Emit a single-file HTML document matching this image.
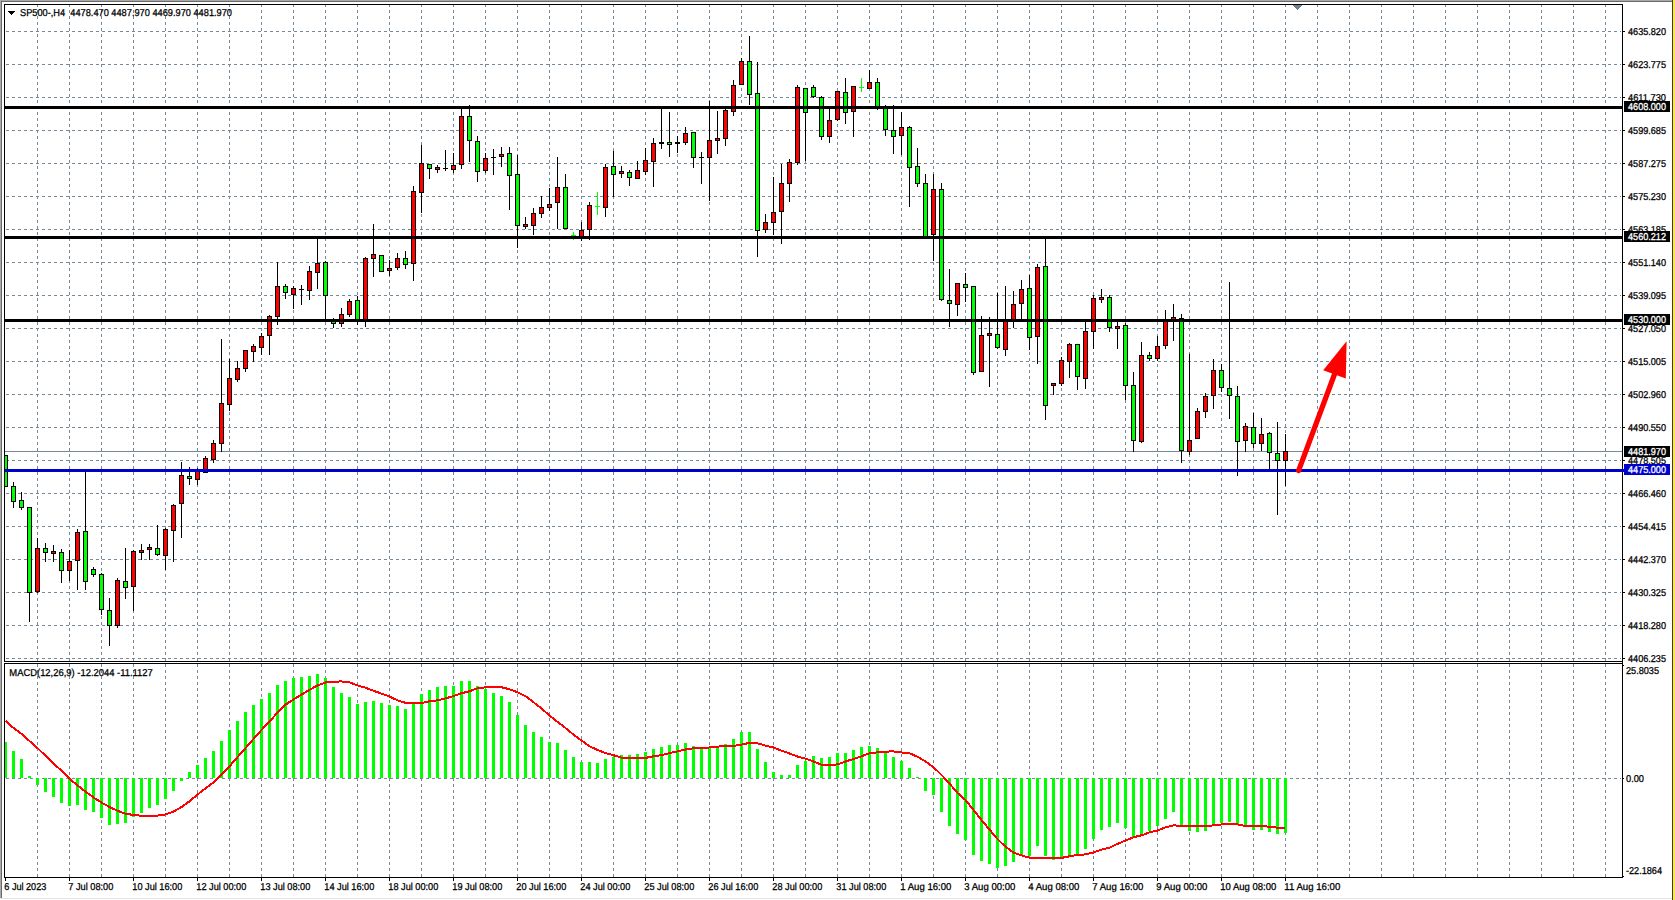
<!DOCTYPE html>
<html><head><meta charset="utf-8"><title>SP500-,H4</title>
<style>
html,body{margin:0;padding:0;background:#fff;}
body{width:1675px;height:900px;overflow:hidden;}
svg{display:block;font-family:"Liberation Sans",sans-serif;font-size:10px;}
</style></head><body>
<svg width="1675" height="900" viewBox="0 0 1675 900" shape-rendering="crispEdges" text-rendering="geometricPrecision">
<rect width="1675" height="900" fill="#fff"/>
<rect x="0" y="0" width="1672" height="1" fill="#a9a9a9"/>
<rect x="0" y="1" width="1672" height="1" fill="#696969"/>
<rect x="0" y="0" width="1" height="898" fill="#a9a9a9"/>
<rect x="1" y="1" width="1" height="897" fill="#696969"/>
<rect x="0" y="898" width="1672" height="1" fill="#e3e3e3"/>
<rect x="1672" y="0" width="1" height="900" fill="#3c3c44"/>
<rect x="1673" y="0" width="2" height="900" fill="#ffe83c"/>
<line x1="37.5" y1="5" x2="37.5" y2="661" stroke="#778899" stroke-dasharray="3 3" stroke-dashoffset="1"/>
<line x1="37.5" y1="664" x2="37.5" y2="877" stroke="#778899" stroke-dasharray="3 3" stroke-dashoffset="0"/>
<line x1="69.5" y1="5" x2="69.5" y2="661" stroke="#778899" stroke-dasharray="3 3" stroke-dashoffset="1"/>
<line x1="69.5" y1="664" x2="69.5" y2="877" stroke="#778899" stroke-dasharray="3 3" stroke-dashoffset="0"/>
<line x1="101.5" y1="5" x2="101.5" y2="661" stroke="#778899" stroke-dasharray="3 3" stroke-dashoffset="1"/>
<line x1="101.5" y1="664" x2="101.5" y2="877" stroke="#778899" stroke-dasharray="3 3" stroke-dashoffset="0"/>
<line x1="133.5" y1="5" x2="133.5" y2="661" stroke="#778899" stroke-dasharray="3 3" stroke-dashoffset="1"/>
<line x1="133.5" y1="664" x2="133.5" y2="877" stroke="#778899" stroke-dasharray="3 3" stroke-dashoffset="0"/>
<line x1="165.5" y1="5" x2="165.5" y2="661" stroke="#778899" stroke-dasharray="3 3" stroke-dashoffset="1"/>
<line x1="165.5" y1="664" x2="165.5" y2="877" stroke="#778899" stroke-dasharray="3 3" stroke-dashoffset="0"/>
<line x1="197.5" y1="5" x2="197.5" y2="661" stroke="#778899" stroke-dasharray="3 3" stroke-dashoffset="1"/>
<line x1="197.5" y1="664" x2="197.5" y2="877" stroke="#778899" stroke-dasharray="3 3" stroke-dashoffset="0"/>
<line x1="229.5" y1="5" x2="229.5" y2="661" stroke="#778899" stroke-dasharray="3 3" stroke-dashoffset="1"/>
<line x1="229.5" y1="664" x2="229.5" y2="877" stroke="#778899" stroke-dasharray="3 3" stroke-dashoffset="0"/>
<line x1="261.5" y1="5" x2="261.5" y2="661" stroke="#778899" stroke-dasharray="3 3" stroke-dashoffset="1"/>
<line x1="261.5" y1="664" x2="261.5" y2="877" stroke="#778899" stroke-dasharray="3 3" stroke-dashoffset="0"/>
<line x1="293.5" y1="5" x2="293.5" y2="661" stroke="#778899" stroke-dasharray="3 3" stroke-dashoffset="1"/>
<line x1="293.5" y1="664" x2="293.5" y2="877" stroke="#778899" stroke-dasharray="3 3" stroke-dashoffset="0"/>
<line x1="325.5" y1="5" x2="325.5" y2="661" stroke="#778899" stroke-dasharray="3 3" stroke-dashoffset="1"/>
<line x1="325.5" y1="664" x2="325.5" y2="877" stroke="#778899" stroke-dasharray="3 3" stroke-dashoffset="0"/>
<line x1="357.5" y1="5" x2="357.5" y2="661" stroke="#778899" stroke-dasharray="3 3" stroke-dashoffset="1"/>
<line x1="357.5" y1="664" x2="357.5" y2="877" stroke="#778899" stroke-dasharray="3 3" stroke-dashoffset="0"/>
<line x1="389.5" y1="5" x2="389.5" y2="661" stroke="#778899" stroke-dasharray="3 3" stroke-dashoffset="1"/>
<line x1="389.5" y1="664" x2="389.5" y2="877" stroke="#778899" stroke-dasharray="3 3" stroke-dashoffset="0"/>
<line x1="421.5" y1="5" x2="421.5" y2="661" stroke="#778899" stroke-dasharray="3 3" stroke-dashoffset="1"/>
<line x1="421.5" y1="664" x2="421.5" y2="877" stroke="#778899" stroke-dasharray="3 3" stroke-dashoffset="0"/>
<line x1="453.5" y1="5" x2="453.5" y2="661" stroke="#778899" stroke-dasharray="3 3" stroke-dashoffset="1"/>
<line x1="453.5" y1="664" x2="453.5" y2="877" stroke="#778899" stroke-dasharray="3 3" stroke-dashoffset="0"/>
<line x1="485.5" y1="5" x2="485.5" y2="661" stroke="#778899" stroke-dasharray="3 3" stroke-dashoffset="1"/>
<line x1="485.5" y1="664" x2="485.5" y2="877" stroke="#778899" stroke-dasharray="3 3" stroke-dashoffset="0"/>
<line x1="517.5" y1="5" x2="517.5" y2="661" stroke="#778899" stroke-dasharray="3 3" stroke-dashoffset="1"/>
<line x1="517.5" y1="664" x2="517.5" y2="877" stroke="#778899" stroke-dasharray="3 3" stroke-dashoffset="0"/>
<line x1="549.5" y1="5" x2="549.5" y2="661" stroke="#778899" stroke-dasharray="3 3" stroke-dashoffset="1"/>
<line x1="549.5" y1="664" x2="549.5" y2="877" stroke="#778899" stroke-dasharray="3 3" stroke-dashoffset="0"/>
<line x1="581.5" y1="5" x2="581.5" y2="661" stroke="#778899" stroke-dasharray="3 3" stroke-dashoffset="1"/>
<line x1="581.5" y1="664" x2="581.5" y2="877" stroke="#778899" stroke-dasharray="3 3" stroke-dashoffset="0"/>
<line x1="613.5" y1="5" x2="613.5" y2="661" stroke="#778899" stroke-dasharray="3 3" stroke-dashoffset="1"/>
<line x1="613.5" y1="664" x2="613.5" y2="877" stroke="#778899" stroke-dasharray="3 3" stroke-dashoffset="0"/>
<line x1="645.5" y1="5" x2="645.5" y2="661" stroke="#778899" stroke-dasharray="3 3" stroke-dashoffset="1"/>
<line x1="645.5" y1="664" x2="645.5" y2="877" stroke="#778899" stroke-dasharray="3 3" stroke-dashoffset="0"/>
<line x1="677.5" y1="5" x2="677.5" y2="661" stroke="#778899" stroke-dasharray="3 3" stroke-dashoffset="1"/>
<line x1="677.5" y1="664" x2="677.5" y2="877" stroke="#778899" stroke-dasharray="3 3" stroke-dashoffset="0"/>
<line x1="709.5" y1="5" x2="709.5" y2="661" stroke="#778899" stroke-dasharray="3 3" stroke-dashoffset="1"/>
<line x1="709.5" y1="664" x2="709.5" y2="877" stroke="#778899" stroke-dasharray="3 3" stroke-dashoffset="0"/>
<line x1="741.5" y1="5" x2="741.5" y2="661" stroke="#778899" stroke-dasharray="3 3" stroke-dashoffset="1"/>
<line x1="741.5" y1="664" x2="741.5" y2="877" stroke="#778899" stroke-dasharray="3 3" stroke-dashoffset="0"/>
<line x1="773.5" y1="5" x2="773.5" y2="661" stroke="#778899" stroke-dasharray="3 3" stroke-dashoffset="1"/>
<line x1="773.5" y1="664" x2="773.5" y2="877" stroke="#778899" stroke-dasharray="3 3" stroke-dashoffset="0"/>
<line x1="805.5" y1="5" x2="805.5" y2="661" stroke="#778899" stroke-dasharray="3 3" stroke-dashoffset="1"/>
<line x1="805.5" y1="664" x2="805.5" y2="877" stroke="#778899" stroke-dasharray="3 3" stroke-dashoffset="0"/>
<line x1="837.5" y1="5" x2="837.5" y2="661" stroke="#778899" stroke-dasharray="3 3" stroke-dashoffset="1"/>
<line x1="837.5" y1="664" x2="837.5" y2="877" stroke="#778899" stroke-dasharray="3 3" stroke-dashoffset="0"/>
<line x1="869.5" y1="5" x2="869.5" y2="661" stroke="#778899" stroke-dasharray="3 3" stroke-dashoffset="1"/>
<line x1="869.5" y1="664" x2="869.5" y2="877" stroke="#778899" stroke-dasharray="3 3" stroke-dashoffset="0"/>
<line x1="901.5" y1="5" x2="901.5" y2="661" stroke="#778899" stroke-dasharray="3 3" stroke-dashoffset="1"/>
<line x1="901.5" y1="664" x2="901.5" y2="877" stroke="#778899" stroke-dasharray="3 3" stroke-dashoffset="0"/>
<line x1="933.5" y1="5" x2="933.5" y2="661" stroke="#778899" stroke-dasharray="3 3" stroke-dashoffset="1"/>
<line x1="933.5" y1="664" x2="933.5" y2="877" stroke="#778899" stroke-dasharray="3 3" stroke-dashoffset="0"/>
<line x1="965.5" y1="5" x2="965.5" y2="661" stroke="#778899" stroke-dasharray="3 3" stroke-dashoffset="1"/>
<line x1="965.5" y1="664" x2="965.5" y2="877" stroke="#778899" stroke-dasharray="3 3" stroke-dashoffset="0"/>
<line x1="997.5" y1="5" x2="997.5" y2="661" stroke="#778899" stroke-dasharray="3 3" stroke-dashoffset="1"/>
<line x1="997.5" y1="664" x2="997.5" y2="877" stroke="#778899" stroke-dasharray="3 3" stroke-dashoffset="0"/>
<line x1="1029.5" y1="5" x2="1029.5" y2="661" stroke="#778899" stroke-dasharray="3 3" stroke-dashoffset="1"/>
<line x1="1029.5" y1="664" x2="1029.5" y2="877" stroke="#778899" stroke-dasharray="3 3" stroke-dashoffset="0"/>
<line x1="1061.5" y1="5" x2="1061.5" y2="661" stroke="#778899" stroke-dasharray="3 3" stroke-dashoffset="1"/>
<line x1="1061.5" y1="664" x2="1061.5" y2="877" stroke="#778899" stroke-dasharray="3 3" stroke-dashoffset="0"/>
<line x1="1093.5" y1="5" x2="1093.5" y2="661" stroke="#778899" stroke-dasharray="3 3" stroke-dashoffset="1"/>
<line x1="1093.5" y1="664" x2="1093.5" y2="877" stroke="#778899" stroke-dasharray="3 3" stroke-dashoffset="0"/>
<line x1="1125.5" y1="5" x2="1125.5" y2="661" stroke="#778899" stroke-dasharray="3 3" stroke-dashoffset="1"/>
<line x1="1125.5" y1="664" x2="1125.5" y2="877" stroke="#778899" stroke-dasharray="3 3" stroke-dashoffset="0"/>
<line x1="1157.5" y1="5" x2="1157.5" y2="661" stroke="#778899" stroke-dasharray="3 3" stroke-dashoffset="1"/>
<line x1="1157.5" y1="664" x2="1157.5" y2="877" stroke="#778899" stroke-dasharray="3 3" stroke-dashoffset="0"/>
<line x1="1189.5" y1="5" x2="1189.5" y2="661" stroke="#778899" stroke-dasharray="3 3" stroke-dashoffset="1"/>
<line x1="1189.5" y1="664" x2="1189.5" y2="877" stroke="#778899" stroke-dasharray="3 3" stroke-dashoffset="0"/>
<line x1="1221.5" y1="5" x2="1221.5" y2="661" stroke="#778899" stroke-dasharray="3 3" stroke-dashoffset="1"/>
<line x1="1221.5" y1="664" x2="1221.5" y2="877" stroke="#778899" stroke-dasharray="3 3" stroke-dashoffset="0"/>
<line x1="1253.5" y1="5" x2="1253.5" y2="661" stroke="#778899" stroke-dasharray="3 3" stroke-dashoffset="1"/>
<line x1="1253.5" y1="664" x2="1253.5" y2="877" stroke="#778899" stroke-dasharray="3 3" stroke-dashoffset="0"/>
<line x1="1285.5" y1="5" x2="1285.5" y2="661" stroke="#778899" stroke-dasharray="3 3" stroke-dashoffset="1"/>
<line x1="1285.5" y1="664" x2="1285.5" y2="877" stroke="#778899" stroke-dasharray="3 3" stroke-dashoffset="0"/>
<line x1="1317.5" y1="5" x2="1317.5" y2="661" stroke="#778899" stroke-dasharray="3 3" stroke-dashoffset="1"/>
<line x1="1317.5" y1="664" x2="1317.5" y2="877" stroke="#778899" stroke-dasharray="3 3" stroke-dashoffset="0"/>
<line x1="1349.5" y1="5" x2="1349.5" y2="661" stroke="#778899" stroke-dasharray="3 3" stroke-dashoffset="1"/>
<line x1="1349.5" y1="664" x2="1349.5" y2="877" stroke="#778899" stroke-dasharray="3 3" stroke-dashoffset="0"/>
<line x1="1381.5" y1="5" x2="1381.5" y2="661" stroke="#778899" stroke-dasharray="3 3" stroke-dashoffset="1"/>
<line x1="1381.5" y1="664" x2="1381.5" y2="877" stroke="#778899" stroke-dasharray="3 3" stroke-dashoffset="0"/>
<line x1="1413.5" y1="5" x2="1413.5" y2="661" stroke="#778899" stroke-dasharray="3 3" stroke-dashoffset="1"/>
<line x1="1413.5" y1="664" x2="1413.5" y2="877" stroke="#778899" stroke-dasharray="3 3" stroke-dashoffset="0"/>
<line x1="1445.5" y1="5" x2="1445.5" y2="661" stroke="#778899" stroke-dasharray="3 3" stroke-dashoffset="1"/>
<line x1="1445.5" y1="664" x2="1445.5" y2="877" stroke="#778899" stroke-dasharray="3 3" stroke-dashoffset="0"/>
<line x1="1477.5" y1="5" x2="1477.5" y2="661" stroke="#778899" stroke-dasharray="3 3" stroke-dashoffset="1"/>
<line x1="1477.5" y1="664" x2="1477.5" y2="877" stroke="#778899" stroke-dasharray="3 3" stroke-dashoffset="0"/>
<line x1="1509.5" y1="5" x2="1509.5" y2="661" stroke="#778899" stroke-dasharray="3 3" stroke-dashoffset="1"/>
<line x1="1509.5" y1="664" x2="1509.5" y2="877" stroke="#778899" stroke-dasharray="3 3" stroke-dashoffset="0"/>
<line x1="1541.5" y1="5" x2="1541.5" y2="661" stroke="#778899" stroke-dasharray="3 3" stroke-dashoffset="1"/>
<line x1="1541.5" y1="664" x2="1541.5" y2="877" stroke="#778899" stroke-dasharray="3 3" stroke-dashoffset="0"/>
<line x1="1573.5" y1="5" x2="1573.5" y2="661" stroke="#778899" stroke-dasharray="3 3" stroke-dashoffset="1"/>
<line x1="1573.5" y1="664" x2="1573.5" y2="877" stroke="#778899" stroke-dasharray="3 3" stroke-dashoffset="0"/>
<line x1="1605.5" y1="5" x2="1605.5" y2="661" stroke="#778899" stroke-dasharray="3 3" stroke-dashoffset="1"/>
<line x1="1605.5" y1="664" x2="1605.5" y2="877" stroke="#778899" stroke-dasharray="3 3" stroke-dashoffset="0"/>
<line x1="5" y1="31.5" x2="1621" y2="31.5" stroke="#778899" stroke-dasharray="3 3" stroke-dashoffset="5"/>
<line x1="5" y1="64.5" x2="1621" y2="64.5" stroke="#778899" stroke-dasharray="3 3" stroke-dashoffset="5"/>
<line x1="5" y1="97.5" x2="1621" y2="97.5" stroke="#778899" stroke-dasharray="3 3" stroke-dashoffset="5"/>
<line x1="5" y1="130.5" x2="1621" y2="130.5" stroke="#778899" stroke-dasharray="3 3" stroke-dashoffset="5"/>
<line x1="5" y1="163.5" x2="1621" y2="163.5" stroke="#778899" stroke-dasharray="3 3" stroke-dashoffset="5"/>
<line x1="5" y1="196.5" x2="1621" y2="196.5" stroke="#778899" stroke-dasharray="3 3" stroke-dashoffset="5"/>
<line x1="5" y1="229.5" x2="1621" y2="229.5" stroke="#778899" stroke-dasharray="3 3" stroke-dashoffset="5"/>
<line x1="5" y1="262.5" x2="1621" y2="262.5" stroke="#778899" stroke-dasharray="3 3" stroke-dashoffset="5"/>
<line x1="5" y1="295.5" x2="1621" y2="295.5" stroke="#778899" stroke-dasharray="3 3" stroke-dashoffset="5"/>
<line x1="5" y1="328.5" x2="1621" y2="328.5" stroke="#778899" stroke-dasharray="3 3" stroke-dashoffset="5"/>
<line x1="5" y1="361.5" x2="1621" y2="361.5" stroke="#778899" stroke-dasharray="3 3" stroke-dashoffset="5"/>
<line x1="5" y1="394.5" x2="1621" y2="394.5" stroke="#778899" stroke-dasharray="3 3" stroke-dashoffset="5"/>
<line x1="5" y1="427.5" x2="1621" y2="427.5" stroke="#778899" stroke-dasharray="3 3" stroke-dashoffset="5"/>
<line x1="5" y1="460.5" x2="1621" y2="460.5" stroke="#778899" stroke-dasharray="3 3" stroke-dashoffset="5"/>
<line x1="5" y1="493.5" x2="1621" y2="493.5" stroke="#778899" stroke-dasharray="3 3" stroke-dashoffset="5"/>
<line x1="5" y1="526.5" x2="1621" y2="526.5" stroke="#778899" stroke-dasharray="3 3" stroke-dashoffset="5"/>
<line x1="5" y1="559.5" x2="1621" y2="559.5" stroke="#778899" stroke-dasharray="3 3" stroke-dashoffset="5"/>
<line x1="5" y1="592.5" x2="1621" y2="592.5" stroke="#778899" stroke-dasharray="3 3" stroke-dashoffset="5"/>
<line x1="5" y1="625.5" x2="1621" y2="625.5" stroke="#778899" stroke-dasharray="3 3" stroke-dashoffset="5"/>
<line x1="5" y1="658.5" x2="1621" y2="658.5" stroke="#778899" stroke-dasharray="3 3" stroke-dashoffset="5"/>
<line x1="5" y1="778.5" x2="1621" y2="778.5" stroke="#778899" stroke-dasharray="3 3" stroke-dashoffset="5"/>
<rect x="5" y="451" width="1617" height="1" fill="#778899"/>
<rect x="5" y="455" width="3" height="32" fill="#000"/>
<rect x="5" y="456" width="2" height="30" fill="#00ff00"/>
<rect x="13" y="482" width="1" height="26" fill="#000"/>
<rect x="11" y="486" width="5" height="16" fill="#000"/>
<rect x="12" y="487" width="3" height="14" fill="#00ff00"/>
<rect x="21" y="492" width="1" height="18" fill="#000"/>
<rect x="19" y="500" width="5" height="8" fill="#000"/>
<rect x="20" y="501" width="3" height="6" fill="#00ff00"/>
<rect x="29" y="507" width="1" height="115" fill="#000"/>
<rect x="27" y="507" width="5" height="86" fill="#000"/>
<rect x="28" y="508" width="3" height="84" fill="#00ff00"/>
<rect x="37" y="538" width="1" height="55" fill="#000"/>
<rect x="35" y="548" width="5" height="44" fill="#000"/>
<rect x="36" y="549" width="3" height="42" fill="#ff0000"/>
<rect x="45" y="543" width="1" height="19" fill="#000"/>
<rect x="43" y="548" width="5" height="5" fill="#000"/>
<rect x="44" y="549" width="3" height="3" fill="#00ff00"/>
<rect x="53" y="545" width="1" height="17" fill="#000"/>
<rect x="51" y="551" width="5" height="3" fill="#000"/>
<rect x="52" y="552" width="3" height="1" fill="#ff0000"/>
<rect x="61" y="549" width="1" height="34" fill="#000"/>
<rect x="59" y="552" width="5" height="19" fill="#000"/>
<rect x="60" y="553" width="3" height="17" fill="#00ff00"/>
<rect x="69" y="550" width="1" height="31" fill="#000"/>
<rect x="67" y="561" width="5" height="10" fill="#000"/>
<rect x="68" y="562" width="3" height="8" fill="#ff0000"/>
<rect x="77" y="529" width="1" height="61" fill="#000"/>
<rect x="75" y="532" width="5" height="29" fill="#000"/>
<rect x="76" y="533" width="3" height="27" fill="#ff0000"/>
<rect x="85" y="470" width="1" height="120" fill="#000"/>
<rect x="83" y="531" width="5" height="51" fill="#000"/>
<rect x="84" y="532" width="3" height="49" fill="#00ff00"/>
<rect x="93" y="567" width="1" height="10" fill="#000"/>
<rect x="91" y="569" width="5" height="6" fill="#000"/>
<rect x="92" y="570" width="3" height="4" fill="#00ff00"/>
<rect x="101" y="573" width="1" height="42" fill="#000"/>
<rect x="99" y="574" width="5" height="36" fill="#000"/>
<rect x="100" y="575" width="3" height="34" fill="#00ff00"/>
<rect x="109" y="598" width="1" height="48" fill="#000"/>
<rect x="107" y="610" width="5" height="16" fill="#000"/>
<rect x="108" y="611" width="3" height="14" fill="#00ff00"/>
<rect x="117" y="578" width="1" height="50" fill="#000"/>
<rect x="115" y="580" width="5" height="46" fill="#000"/>
<rect x="116" y="581" width="3" height="44" fill="#ff0000"/>
<rect x="125" y="548" width="1" height="51" fill="#000"/>
<rect x="123" y="581" width="5" height="7" fill="#000"/>
<rect x="124" y="582" width="3" height="5" fill="#00ff00"/>
<rect x="133" y="550" width="1" height="61" fill="#000"/>
<rect x="131" y="551" width="5" height="36" fill="#000"/>
<rect x="132" y="552" width="3" height="34" fill="#ff0000"/>
<rect x="141" y="544" width="1" height="16" fill="#000"/>
<rect x="139" y="550" width="5" height="3" fill="#000"/>
<rect x="140" y="551" width="3" height="1" fill="#ff0000"/>
<rect x="149" y="544" width="1" height="16" fill="#000"/>
<rect x="147" y="547" width="5" height="3" fill="#000"/>
<rect x="148" y="548" width="3" height="1" fill="#ff0000"/>
<rect x="157" y="525" width="1" height="31" fill="#000"/>
<rect x="155" y="548" width="5" height="7" fill="#000"/>
<rect x="156" y="549" width="3" height="5" fill="#00ff00"/>
<rect x="165" y="528" width="1" height="42" fill="#000"/>
<rect x="163" y="529" width="5" height="27" fill="#000"/>
<rect x="164" y="530" width="3" height="25" fill="#ff0000"/>
<rect x="173" y="504" width="1" height="58" fill="#000"/>
<rect x="171" y="505" width="5" height="26" fill="#000"/>
<rect x="172" y="506" width="3" height="24" fill="#ff0000"/>
<rect x="181" y="462" width="1" height="76" fill="#000"/>
<rect x="179" y="475" width="5" height="29" fill="#000"/>
<rect x="180" y="476" width="3" height="27" fill="#ff0000"/>
<rect x="189" y="467" width="1" height="18" fill="#000"/>
<rect x="187" y="476" width="5" height="3" fill="#000"/>
<rect x="188" y="477" width="3" height="1" fill="#00ff00"/>
<rect x="197" y="468" width="1" height="17" fill="#000"/>
<rect x="195" y="471" width="5" height="9" fill="#000"/>
<rect x="196" y="472" width="3" height="7" fill="#ff0000"/>
<rect x="205" y="456" width="1" height="17" fill="#000"/>
<rect x="203" y="458" width="5" height="15" fill="#000"/>
<rect x="204" y="459" width="3" height="13" fill="#ff0000"/>
<rect x="213" y="440" width="1" height="23" fill="#000"/>
<rect x="211" y="443" width="5" height="17" fill="#000"/>
<rect x="212" y="444" width="3" height="15" fill="#ff0000"/>
<rect x="221" y="339" width="1" height="113" fill="#000"/>
<rect x="219" y="403" width="5" height="41" fill="#000"/>
<rect x="220" y="404" width="3" height="39" fill="#ff0000"/>
<rect x="229" y="359" width="1" height="52" fill="#000"/>
<rect x="227" y="378" width="5" height="27" fill="#000"/>
<rect x="228" y="379" width="3" height="25" fill="#ff0000"/>
<rect x="237" y="361" width="1" height="21" fill="#000"/>
<rect x="235" y="368" width="5" height="12" fill="#000"/>
<rect x="236" y="369" width="3" height="10" fill="#ff0000"/>
<rect x="245" y="350" width="1" height="22" fill="#000"/>
<rect x="243" y="350" width="5" height="19" fill="#000"/>
<rect x="244" y="351" width="3" height="17" fill="#ff0000"/>
<rect x="253" y="344" width="1" height="18" fill="#000"/>
<rect x="251" y="346" width="5" height="6" fill="#000"/>
<rect x="252" y="347" width="3" height="4" fill="#ff0000"/>
<rect x="261" y="333" width="1" height="22" fill="#000"/>
<rect x="259" y="336" width="5" height="12" fill="#000"/>
<rect x="260" y="337" width="3" height="10" fill="#ff0000"/>
<rect x="269" y="315" width="1" height="40" fill="#000"/>
<rect x="267" y="316" width="5" height="20" fill="#000"/>
<rect x="268" y="317" width="3" height="18" fill="#ff0000"/>
<rect x="277" y="262" width="1" height="63" fill="#000"/>
<rect x="275" y="286" width="5" height="31" fill="#000"/>
<rect x="276" y="287" width="3" height="29" fill="#ff0000"/>
<rect x="285" y="284" width="1" height="15" fill="#000"/>
<rect x="283" y="286" width="5" height="7" fill="#000"/>
<rect x="284" y="287" width="3" height="5" fill="#00ff00"/>
<rect x="293" y="286" width="1" height="23" fill="#000"/>
<rect x="291" y="288" width="5" height="7" fill="#000"/>
<rect x="292" y="289" width="3" height="5" fill="#ff0000"/>
<rect x="301" y="285" width="1" height="20" fill="#000"/>
<rect x="299" y="289" width="5" height="1" fill="#000"/>
<rect x="309" y="266" width="1" height="34" fill="#000"/>
<rect x="307" y="271" width="5" height="20" fill="#000"/>
<rect x="308" y="272" width="3" height="18" fill="#ff0000"/>
<rect x="317" y="238" width="1" height="51" fill="#000"/>
<rect x="315" y="263" width="5" height="10" fill="#000"/>
<rect x="316" y="264" width="3" height="8" fill="#ff0000"/>
<rect x="325" y="261" width="1" height="58" fill="#000"/>
<rect x="323" y="262" width="5" height="34" fill="#000"/>
<rect x="324" y="263" width="3" height="32" fill="#00ff00"/>
<rect x="333" y="318" width="1" height="10" fill="#000"/>
<rect x="331" y="321" width="5" height="3" fill="#000"/>
<rect x="332" y="322" width="3" height="1" fill="#00ff00"/>
<rect x="341" y="308" width="1" height="19" fill="#000"/>
<rect x="339" y="314" width="5" height="10" fill="#000"/>
<rect x="340" y="315" width="3" height="8" fill="#ff0000"/>
<rect x="349" y="299" width="1" height="18" fill="#000"/>
<rect x="347" y="301" width="5" height="14" fill="#000"/>
<rect x="348" y="302" width="3" height="12" fill="#ff0000"/>
<rect x="357" y="296" width="1" height="29" fill="#000"/>
<rect x="355" y="300" width="5" height="22" fill="#000"/>
<rect x="356" y="301" width="3" height="20" fill="#00ff00"/>
<rect x="365" y="257" width="1" height="70" fill="#000"/>
<rect x="363" y="258" width="5" height="64" fill="#000"/>
<rect x="364" y="259" width="3" height="62" fill="#ff0000"/>
<rect x="373" y="224" width="1" height="53" fill="#000"/>
<rect x="371" y="254" width="5" height="5" fill="#000"/>
<rect x="372" y="255" width="3" height="3" fill="#ff0000"/>
<rect x="381" y="255" width="1" height="17" fill="#000"/>
<rect x="379" y="255" width="5" height="17" fill="#000"/>
<rect x="380" y="256" width="3" height="15" fill="#00ff00"/>
<rect x="389" y="260" width="1" height="16" fill="#000"/>
<rect x="387" y="268" width="5" height="3" fill="#000"/>
<rect x="388" y="269" width="3" height="1" fill="#ff0000"/>
<rect x="397" y="253" width="1" height="17" fill="#000"/>
<rect x="395" y="258" width="5" height="10" fill="#000"/>
<rect x="396" y="259" width="3" height="8" fill="#ff0000"/>
<rect x="405" y="251" width="1" height="18" fill="#000"/>
<rect x="403" y="258" width="5" height="7" fill="#000"/>
<rect x="404" y="259" width="3" height="5" fill="#00ff00"/>
<rect x="413" y="186" width="1" height="95" fill="#000"/>
<rect x="411" y="191" width="5" height="73" fill="#000"/>
<rect x="412" y="192" width="3" height="71" fill="#ff0000"/>
<rect x="421" y="145" width="1" height="68" fill="#000"/>
<rect x="419" y="163" width="5" height="30" fill="#000"/>
<rect x="420" y="164" width="3" height="28" fill="#ff0000"/>
<rect x="429" y="164" width="1" height="15" fill="#000"/>
<rect x="427" y="164" width="5" height="5" fill="#000"/>
<rect x="428" y="165" width="3" height="3" fill="#00ff00"/>
<rect x="437" y="165" width="1" height="8" fill="#000"/>
<rect x="435" y="167" width="5" height="3" fill="#000"/>
<rect x="436" y="168" width="3" height="1" fill="#ff0000"/>
<rect x="445" y="150" width="1" height="21" fill="#000"/>
<rect x="443" y="168" width="5" height="1" fill="#000"/>
<rect x="453" y="153" width="1" height="20" fill="#000"/>
<rect x="451" y="165" width="5" height="5" fill="#000"/>
<rect x="452" y="166" width="3" height="3" fill="#ff0000"/>
<rect x="461" y="107" width="1" height="62" fill="#000"/>
<rect x="459" y="116" width="5" height="49" fill="#000"/>
<rect x="460" y="117" width="3" height="47" fill="#ff0000"/>
<rect x="469" y="105" width="1" height="57" fill="#000"/>
<rect x="467" y="116" width="5" height="25" fill="#000"/>
<rect x="468" y="117" width="3" height="23" fill="#00ff00"/>
<rect x="477" y="136" width="1" height="46" fill="#000"/>
<rect x="475" y="141" width="5" height="31" fill="#000"/>
<rect x="476" y="142" width="3" height="29" fill="#00ff00"/>
<rect x="485" y="153" width="1" height="20" fill="#000"/>
<rect x="483" y="158" width="5" height="13" fill="#000"/>
<rect x="484" y="159" width="3" height="11" fill="#ff0000"/>
<rect x="493" y="149" width="1" height="26" fill="#000"/>
<rect x="491" y="157" width="5" height="1" fill="#000"/>
<rect x="501" y="147" width="1" height="20" fill="#000"/>
<rect x="499" y="154" width="5" height="3" fill="#000"/>
<rect x="500" y="155" width="3" height="1" fill="#ff0000"/>
<rect x="509" y="147" width="1" height="63" fill="#000"/>
<rect x="507" y="153" width="5" height="23" fill="#000"/>
<rect x="508" y="154" width="3" height="21" fill="#00ff00"/>
<rect x="517" y="155" width="1" height="93" fill="#000"/>
<rect x="515" y="174" width="5" height="52" fill="#000"/>
<rect x="516" y="175" width="3" height="50" fill="#00ff00"/>
<rect x="525" y="217" width="1" height="12" fill="#000"/>
<rect x="523" y="224" width="5" height="3" fill="#000"/>
<rect x="524" y="225" width="3" height="1" fill="#ff0000"/>
<rect x="533" y="208" width="1" height="27" fill="#000"/>
<rect x="531" y="213" width="5" height="13" fill="#000"/>
<rect x="532" y="214" width="3" height="11" fill="#ff0000"/>
<rect x="541" y="196" width="1" height="22" fill="#000"/>
<rect x="539" y="207" width="5" height="7" fill="#000"/>
<rect x="540" y="208" width="3" height="5" fill="#ff0000"/>
<rect x="549" y="188" width="1" height="23" fill="#000"/>
<rect x="547" y="204" width="5" height="4" fill="#000"/>
<rect x="548" y="205" width="3" height="2" fill="#ff0000"/>
<rect x="557" y="157" width="1" height="72" fill="#000"/>
<rect x="555" y="187" width="5" height="16" fill="#000"/>
<rect x="556" y="188" width="3" height="14" fill="#ff0000"/>
<rect x="565" y="174" width="1" height="55" fill="#000"/>
<rect x="563" y="187" width="5" height="42" fill="#000"/>
<rect x="564" y="188" width="3" height="40" fill="#00ff00"/>
<rect x="573" y="232" width="1" height="8" fill="#00ff00"/>
<rect x="571" y="235" width="5" height="1" fill="#00ff00"/>
<rect x="581" y="222" width="1" height="19" fill="#000"/>
<rect x="579" y="230" width="5" height="8" fill="#000"/>
<rect x="580" y="231" width="3" height="6" fill="#ff0000"/>
<rect x="589" y="202" width="1" height="38" fill="#000"/>
<rect x="587" y="205" width="5" height="25" fill="#000"/>
<rect x="588" y="206" width="3" height="23" fill="#ff0000"/>
<rect x="597" y="192" width="1" height="23" fill="#00ff00"/>
<rect x="595" y="206" width="5" height="1" fill="#00ff00"/>
<rect x="605" y="164" width="1" height="53" fill="#000"/>
<rect x="603" y="167" width="5" height="41" fill="#000"/>
<rect x="604" y="168" width="3" height="39" fill="#ff0000"/>
<rect x="613" y="151" width="1" height="46" fill="#000"/>
<rect x="611" y="166" width="5" height="9" fill="#000"/>
<rect x="612" y="167" width="3" height="7" fill="#00ff00"/>
<rect x="621" y="166" width="1" height="12" fill="#000"/>
<rect x="619" y="171" width="5" height="3" fill="#000"/>
<rect x="620" y="172" width="3" height="1" fill="#ff0000"/>
<rect x="629" y="170" width="1" height="16" fill="#000"/>
<rect x="627" y="172" width="5" height="6" fill="#000"/>
<rect x="628" y="173" width="3" height="4" fill="#00ff00"/>
<rect x="637" y="161" width="1" height="18" fill="#000"/>
<rect x="635" y="170" width="5" height="9" fill="#000"/>
<rect x="636" y="171" width="3" height="7" fill="#ff0000"/>
<rect x="645" y="148" width="1" height="27" fill="#000"/>
<rect x="643" y="160" width="5" height="12" fill="#000"/>
<rect x="644" y="161" width="3" height="10" fill="#ff0000"/>
<rect x="653" y="138" width="1" height="49" fill="#000"/>
<rect x="651" y="143" width="5" height="19" fill="#000"/>
<rect x="652" y="144" width="3" height="17" fill="#ff0000"/>
<rect x="661" y="107" width="1" height="42" fill="#000"/>
<rect x="659" y="142" width="5" height="2" fill="#000"/>
<rect x="669" y="112" width="1" height="45" fill="#000"/>
<rect x="667" y="142" width="5" height="3" fill="#000"/>
<rect x="668" y="143" width="3" height="1" fill="#00ff00"/>
<rect x="677" y="136" width="1" height="17" fill="#000"/>
<rect x="675" y="142" width="5" height="2" fill="#000"/>
<rect x="685" y="127" width="1" height="18" fill="#000"/>
<rect x="683" y="133" width="5" height="10" fill="#000"/>
<rect x="684" y="134" width="3" height="8" fill="#ff0000"/>
<rect x="693" y="132" width="1" height="36" fill="#000"/>
<rect x="691" y="132" width="5" height="26" fill="#000"/>
<rect x="692" y="133" width="3" height="24" fill="#00ff00"/>
<rect x="701" y="152" width="1" height="32" fill="#000"/>
<rect x="699" y="157" width="5" height="1" fill="#000"/>
<rect x="709" y="101" width="1" height="100" fill="#000"/>
<rect x="707" y="140" width="5" height="18" fill="#000"/>
<rect x="708" y="141" width="3" height="16" fill="#ff0000"/>
<rect x="717" y="111" width="1" height="43" fill="#000"/>
<rect x="715" y="138" width="5" height="3" fill="#000"/>
<rect x="716" y="139" width="3" height="1" fill="#ff0000"/>
<rect x="725" y="109" width="1" height="37" fill="#000"/>
<rect x="723" y="110" width="5" height="29" fill="#000"/>
<rect x="724" y="111" width="3" height="27" fill="#ff0000"/>
<rect x="733" y="80" width="1" height="36" fill="#000"/>
<rect x="731" y="85" width="5" height="27" fill="#000"/>
<rect x="732" y="86" width="3" height="25" fill="#ff0000"/>
<rect x="741" y="58" width="1" height="27" fill="#000"/>
<rect x="739" y="61" width="5" height="24" fill="#000"/>
<rect x="740" y="62" width="3" height="22" fill="#ff0000"/>
<rect x="749" y="36" width="1" height="69" fill="#000"/>
<rect x="747" y="61" width="5" height="34" fill="#000"/>
<rect x="748" y="62" width="3" height="32" fill="#00ff00"/>
<rect x="757" y="62" width="1" height="195" fill="#000"/>
<rect x="755" y="93" width="5" height="138" fill="#000"/>
<rect x="756" y="94" width="3" height="136" fill="#00ff00"/>
<rect x="765" y="214" width="1" height="19" fill="#000"/>
<rect x="763" y="222" width="5" height="8" fill="#000"/>
<rect x="764" y="223" width="3" height="6" fill="#ff0000"/>
<rect x="773" y="177" width="1" height="58" fill="#000"/>
<rect x="771" y="212" width="5" height="11" fill="#000"/>
<rect x="772" y="213" width="3" height="9" fill="#ff0000"/>
<rect x="781" y="164" width="1" height="80" fill="#000"/>
<rect x="779" y="183" width="5" height="29" fill="#000"/>
<rect x="780" y="184" width="3" height="27" fill="#ff0000"/>
<rect x="789" y="159" width="1" height="43" fill="#000"/>
<rect x="787" y="162" width="5" height="22" fill="#000"/>
<rect x="788" y="163" width="3" height="20" fill="#ff0000"/>
<rect x="797" y="85" width="1" height="80" fill="#000"/>
<rect x="795" y="87" width="5" height="76" fill="#000"/>
<rect x="796" y="88" width="3" height="74" fill="#ff0000"/>
<rect x="805" y="88" width="1" height="73" fill="#000"/>
<rect x="803" y="88" width="5" height="25" fill="#000"/>
<rect x="804" y="89" width="3" height="23" fill="#00ff00"/>
<rect x="813" y="85" width="1" height="13" fill="#000"/>
<rect x="811" y="87" width="5" height="10" fill="#000"/>
<rect x="812" y="88" width="3" height="8" fill="#00ff00"/>
<rect x="821" y="96" width="1" height="44" fill="#000"/>
<rect x="819" y="97" width="5" height="40" fill="#000"/>
<rect x="820" y="98" width="3" height="38" fill="#00ff00"/>
<rect x="829" y="107" width="1" height="36" fill="#000"/>
<rect x="827" y="120" width="5" height="17" fill="#000"/>
<rect x="828" y="121" width="3" height="15" fill="#ff0000"/>
<rect x="837" y="91" width="1" height="30" fill="#000"/>
<rect x="835" y="91" width="5" height="29" fill="#000"/>
<rect x="836" y="92" width="3" height="27" fill="#ff0000"/>
<rect x="845" y="78" width="1" height="46" fill="#000"/>
<rect x="843" y="92" width="5" height="21" fill="#000"/>
<rect x="844" y="93" width="3" height="19" fill="#00ff00"/>
<rect x="853" y="86" width="1" height="51" fill="#000"/>
<rect x="851" y="86" width="5" height="26" fill="#000"/>
<rect x="852" y="87" width="3" height="24" fill="#ff0000"/>
<rect x="861" y="78" width="1" height="14" fill="#00ff00"/>
<rect x="859" y="87" width="5" height="1" fill="#00ff00"/>
<rect x="869" y="70" width="1" height="19" fill="#000"/>
<rect x="867" y="82" width="5" height="7" fill="#000"/>
<rect x="868" y="83" width="3" height="5" fill="#ff0000"/>
<rect x="877" y="78" width="1" height="32" fill="#000"/>
<rect x="875" y="82" width="5" height="27" fill="#000"/>
<rect x="876" y="83" width="3" height="25" fill="#00ff00"/>
<rect x="885" y="105" width="1" height="31" fill="#000"/>
<rect x="883" y="107" width="5" height="23" fill="#000"/>
<rect x="884" y="108" width="3" height="21" fill="#00ff00"/>
<rect x="893" y="105" width="1" height="49" fill="#000"/>
<rect x="891" y="130" width="5" height="7" fill="#000"/>
<rect x="892" y="131" width="3" height="5" fill="#00ff00"/>
<rect x="901" y="112" width="1" height="43" fill="#000"/>
<rect x="899" y="127" width="5" height="9" fill="#000"/>
<rect x="900" y="128" width="3" height="7" fill="#ff0000"/>
<rect x="909" y="126" width="1" height="81" fill="#000"/>
<rect x="907" y="127" width="5" height="41" fill="#000"/>
<rect x="908" y="128" width="3" height="39" fill="#00ff00"/>
<rect x="917" y="148" width="1" height="39" fill="#000"/>
<rect x="915" y="166" width="5" height="18" fill="#000"/>
<rect x="916" y="167" width="3" height="16" fill="#00ff00"/>
<rect x="925" y="174" width="1" height="64" fill="#000"/>
<rect x="923" y="183" width="5" height="55" fill="#000"/>
<rect x="924" y="184" width="3" height="53" fill="#00ff00"/>
<rect x="933" y="174" width="1" height="87" fill="#000"/>
<rect x="931" y="189" width="5" height="46" fill="#000"/>
<rect x="932" y="190" width="3" height="44" fill="#ff0000"/>
<rect x="941" y="183" width="1" height="118" fill="#000"/>
<rect x="939" y="189" width="5" height="111" fill="#000"/>
<rect x="940" y="190" width="3" height="109" fill="#00ff00"/>
<rect x="949" y="269" width="1" height="58" fill="#000"/>
<rect x="947" y="300" width="5" height="4" fill="#000"/>
<rect x="948" y="301" width="3" height="2" fill="#00ff00"/>
<rect x="957" y="283" width="1" height="33" fill="#000"/>
<rect x="955" y="283" width="5" height="22" fill="#000"/>
<rect x="956" y="284" width="3" height="20" fill="#ff0000"/>
<rect x="965" y="273" width="1" height="29" fill="#000"/>
<rect x="963" y="284" width="5" height="4" fill="#000"/>
<rect x="964" y="285" width="3" height="2" fill="#00ff00"/>
<rect x="973" y="286" width="1" height="89" fill="#000"/>
<rect x="971" y="286" width="5" height="87" fill="#000"/>
<rect x="972" y="287" width="3" height="85" fill="#00ff00"/>
<rect x="981" y="316" width="1" height="56" fill="#000"/>
<rect x="979" y="335" width="5" height="37" fill="#000"/>
<rect x="980" y="336" width="3" height="35" fill="#ff0000"/>
<rect x="989" y="317" width="1" height="70" fill="#000"/>
<rect x="987" y="333" width="5" height="3" fill="#000"/>
<rect x="988" y="334" width="3" height="1" fill="#ff0000"/>
<rect x="997" y="293" width="1" height="56" fill="#000"/>
<rect x="995" y="334" width="5" height="14" fill="#000"/>
<rect x="996" y="335" width="3" height="12" fill="#00ff00"/>
<rect x="1005" y="286" width="1" height="70" fill="#000"/>
<rect x="1003" y="320" width="5" height="30" fill="#000"/>
<rect x="1004" y="321" width="3" height="28" fill="#ff0000"/>
<rect x="1013" y="291" width="1" height="37" fill="#000"/>
<rect x="1011" y="304" width="5" height="16" fill="#000"/>
<rect x="1012" y="305" width="3" height="14" fill="#ff0000"/>
<rect x="1021" y="280" width="1" height="41" fill="#000"/>
<rect x="1019" y="289" width="5" height="15" fill="#000"/>
<rect x="1020" y="290" width="3" height="13" fill="#ff0000"/>
<rect x="1029" y="275" width="1" height="75" fill="#000"/>
<rect x="1027" y="288" width="5" height="50" fill="#000"/>
<rect x="1028" y="289" width="3" height="48" fill="#00ff00"/>
<rect x="1037" y="264" width="1" height="100" fill="#000"/>
<rect x="1035" y="267" width="5" height="70" fill="#000"/>
<rect x="1036" y="268" width="3" height="68" fill="#ff0000"/>
<rect x="1045" y="237" width="1" height="183" fill="#000"/>
<rect x="1043" y="266" width="5" height="140" fill="#000"/>
<rect x="1044" y="267" width="3" height="138" fill="#00ff00"/>
<rect x="1053" y="383" width="1" height="12" fill="#000"/>
<rect x="1051" y="383" width="5" height="3" fill="#000"/>
<rect x="1052" y="384" width="3" height="1" fill="#ff0000"/>
<rect x="1061" y="357" width="1" height="29" fill="#000"/>
<rect x="1059" y="360" width="5" height="24" fill="#000"/>
<rect x="1060" y="361" width="3" height="22" fill="#ff0000"/>
<rect x="1069" y="343" width="1" height="35" fill="#000"/>
<rect x="1067" y="344" width="5" height="18" fill="#000"/>
<rect x="1068" y="345" width="3" height="16" fill="#ff0000"/>
<rect x="1077" y="344" width="1" height="46" fill="#000"/>
<rect x="1075" y="344" width="5" height="33" fill="#000"/>
<rect x="1076" y="345" width="3" height="31" fill="#00ff00"/>
<rect x="1085" y="321" width="1" height="68" fill="#000"/>
<rect x="1083" y="331" width="5" height="48" fill="#000"/>
<rect x="1084" y="332" width="3" height="46" fill="#ff0000"/>
<rect x="1093" y="295" width="1" height="54" fill="#000"/>
<rect x="1091" y="298" width="5" height="34" fill="#000"/>
<rect x="1092" y="299" width="3" height="32" fill="#ff0000"/>
<rect x="1101" y="289" width="1" height="14" fill="#000"/>
<rect x="1099" y="297" width="5" height="3" fill="#000"/>
<rect x="1100" y="298" width="3" height="1" fill="#ff0000"/>
<rect x="1109" y="295" width="1" height="37" fill="#000"/>
<rect x="1107" y="297" width="5" height="31" fill="#000"/>
<rect x="1108" y="298" width="3" height="29" fill="#00ff00"/>
<rect x="1117" y="321" width="1" height="28" fill="#000"/>
<rect x="1115" y="326" width="5" height="3" fill="#000"/>
<rect x="1116" y="327" width="3" height="1" fill="#ff0000"/>
<rect x="1125" y="323" width="1" height="77" fill="#000"/>
<rect x="1123" y="325" width="5" height="61" fill="#000"/>
<rect x="1124" y="326" width="3" height="59" fill="#00ff00"/>
<rect x="1133" y="372" width="1" height="80" fill="#000"/>
<rect x="1131" y="385" width="5" height="56" fill="#000"/>
<rect x="1132" y="386" width="3" height="54" fill="#00ff00"/>
<rect x="1141" y="342" width="1" height="101" fill="#000"/>
<rect x="1139" y="355" width="5" height="87" fill="#000"/>
<rect x="1140" y="356" width="3" height="85" fill="#ff0000"/>
<rect x="1149" y="352" width="1" height="9" fill="#000"/>
<rect x="1147" y="355" width="5" height="4" fill="#000"/>
<rect x="1148" y="356" width="3" height="2" fill="#00ff00"/>
<rect x="1157" y="336" width="1" height="25" fill="#000"/>
<rect x="1155" y="346" width="5" height="13" fill="#000"/>
<rect x="1156" y="347" width="3" height="11" fill="#ff0000"/>
<rect x="1165" y="310" width="1" height="39" fill="#000"/>
<rect x="1163" y="321" width="5" height="25" fill="#000"/>
<rect x="1164" y="322" width="3" height="23" fill="#ff0000"/>
<rect x="1173" y="304" width="1" height="37" fill="#000"/>
<rect x="1171" y="317" width="5" height="4" fill="#000"/>
<rect x="1172" y="318" width="3" height="2" fill="#ff0000"/>
<rect x="1181" y="314" width="1" height="149" fill="#000"/>
<rect x="1179" y="318" width="5" height="133" fill="#000"/>
<rect x="1180" y="319" width="3" height="131" fill="#00ff00"/>
<rect x="1189" y="354" width="1" height="101" fill="#000"/>
<rect x="1187" y="440" width="5" height="12" fill="#000"/>
<rect x="1188" y="441" width="3" height="10" fill="#ff0000"/>
<rect x="1197" y="408" width="1" height="31" fill="#000"/>
<rect x="1195" y="411" width="5" height="28" fill="#000"/>
<rect x="1196" y="412" width="3" height="26" fill="#ff0000"/>
<rect x="1205" y="393" width="1" height="25" fill="#000"/>
<rect x="1203" y="396" width="5" height="16" fill="#000"/>
<rect x="1204" y="397" width="3" height="14" fill="#ff0000"/>
<rect x="1213" y="359" width="1" height="50" fill="#000"/>
<rect x="1211" y="370" width="5" height="26" fill="#000"/>
<rect x="1212" y="371" width="3" height="24" fill="#ff0000"/>
<rect x="1221" y="364" width="1" height="28" fill="#000"/>
<rect x="1219" y="370" width="5" height="18" fill="#000"/>
<rect x="1220" y="371" width="3" height="16" fill="#00ff00"/>
<rect x="1229" y="282" width="1" height="137" fill="#000"/>
<rect x="1227" y="388" width="5" height="8" fill="#000"/>
<rect x="1228" y="389" width="3" height="6" fill="#00ff00"/>
<rect x="1237" y="386" width="1" height="90" fill="#000"/>
<rect x="1235" y="396" width="5" height="46" fill="#000"/>
<rect x="1236" y="397" width="3" height="44" fill="#00ff00"/>
<rect x="1245" y="423" width="1" height="29" fill="#000"/>
<rect x="1243" y="426" width="5" height="15" fill="#000"/>
<rect x="1244" y="427" width="3" height="13" fill="#ff0000"/>
<rect x="1253" y="413" width="1" height="35" fill="#000"/>
<rect x="1251" y="427" width="5" height="17" fill="#000"/>
<rect x="1252" y="428" width="3" height="15" fill="#00ff00"/>
<rect x="1261" y="418" width="1" height="33" fill="#000"/>
<rect x="1259" y="434" width="5" height="10" fill="#000"/>
<rect x="1260" y="435" width="3" height="8" fill="#ff0000"/>
<rect x="1269" y="432" width="1" height="38" fill="#000"/>
<rect x="1267" y="433" width="5" height="20" fill="#000"/>
<rect x="1268" y="434" width="3" height="18" fill="#00ff00"/>
<rect x="1277" y="422" width="1" height="93" fill="#000"/>
<rect x="1275" y="453" width="5" height="8" fill="#000"/>
<rect x="1276" y="454" width="3" height="6" fill="#00ff00"/>
<rect x="1285" y="434" width="1" height="52" fill="#000"/>
<rect x="1283" y="451" width="5" height="10" fill="#000"/>
<rect x="1284" y="452" width="3" height="8" fill="#ff0000"/>
<rect x="5" y="742" width="2" height="36" fill="#00ff00"/>
<rect x="12" y="751" width="3" height="27" fill="#00ff00"/>
<rect x="20" y="759" width="3" height="19" fill="#00ff00"/>
<rect x="28" y="776" width="3" height="2" fill="#00ff00"/>
<rect x="36" y="778" width="3" height="7" fill="#00ff00"/>
<rect x="44" y="778" width="3" height="14" fill="#00ff00"/>
<rect x="52" y="778" width="3" height="19" fill="#00ff00"/>
<rect x="60" y="778" width="3" height="25" fill="#00ff00"/>
<rect x="68" y="778" width="3" height="28" fill="#00ff00"/>
<rect x="76" y="778" width="3" height="27" fill="#00ff00"/>
<rect x="84" y="778" width="3" height="32" fill="#00ff00"/>
<rect x="92" y="778" width="3" height="34" fill="#00ff00"/>
<rect x="100" y="778" width="3" height="40" fill="#00ff00"/>
<rect x="108" y="778" width="3" height="47" fill="#00ff00"/>
<rect x="116" y="778" width="3" height="46" fill="#00ff00"/>
<rect x="124" y="778" width="3" height="45" fill="#00ff00"/>
<rect x="132" y="778" width="3" height="39" fill="#00ff00"/>
<rect x="140" y="778" width="3" height="35" fill="#00ff00"/>
<rect x="148" y="778" width="3" height="30" fill="#00ff00"/>
<rect x="156" y="778" width="3" height="27" fill="#00ff00"/>
<rect x="164" y="778" width="3" height="21" fill="#00ff00"/>
<rect x="172" y="778" width="3" height="13" fill="#00ff00"/>
<rect x="180" y="778" width="3" height="3" fill="#00ff00"/>
<rect x="188" y="772" width="3" height="6" fill="#00ff00"/>
<rect x="196" y="765" width="3" height="13" fill="#00ff00"/>
<rect x="204" y="758" width="3" height="20" fill="#00ff00"/>
<rect x="212" y="751" width="3" height="27" fill="#00ff00"/>
<rect x="220" y="741" width="3" height="37" fill="#00ff00"/>
<rect x="228" y="730" width="3" height="48" fill="#00ff00"/>
<rect x="236" y="721" width="3" height="57" fill="#00ff00"/>
<rect x="244" y="712" width="3" height="66" fill="#00ff00"/>
<rect x="252" y="705" width="3" height="73" fill="#00ff00"/>
<rect x="260" y="699" width="3" height="79" fill="#00ff00"/>
<rect x="268" y="693" width="3" height="85" fill="#00ff00"/>
<rect x="276" y="685" width="3" height="93" fill="#00ff00"/>
<rect x="284" y="681" width="3" height="97" fill="#00ff00"/>
<rect x="292" y="678" width="3" height="100" fill="#00ff00"/>
<rect x="300" y="677" width="3" height="101" fill="#00ff00"/>
<rect x="308" y="676" width="3" height="102" fill="#00ff00"/>
<rect x="316" y="674" width="3" height="104" fill="#00ff00"/>
<rect x="324" y="678" width="3" height="100" fill="#00ff00"/>
<rect x="332" y="687" width="3" height="91" fill="#00ff00"/>
<rect x="340" y="693" width="3" height="85" fill="#00ff00"/>
<rect x="348" y="697" width="3" height="81" fill="#00ff00"/>
<rect x="356" y="704" width="3" height="74" fill="#00ff00"/>
<rect x="364" y="702" width="3" height="76" fill="#00ff00"/>
<rect x="372" y="701" width="3" height="77" fill="#00ff00"/>
<rect x="380" y="703" width="3" height="75" fill="#00ff00"/>
<rect x="388" y="705" width="3" height="73" fill="#00ff00"/>
<rect x="396" y="706" width="3" height="72" fill="#00ff00"/>
<rect x="404" y="709" width="3" height="69" fill="#00ff00"/>
<rect x="412" y="704" width="3" height="74" fill="#00ff00"/>
<rect x="420" y="694" width="3" height="84" fill="#00ff00"/>
<rect x="428" y="690" width="3" height="88" fill="#00ff00"/>
<rect x="436" y="687" width="3" height="91" fill="#00ff00"/>
<rect x="444" y="686" width="3" height="92" fill="#00ff00"/>
<rect x="452" y="686" width="3" height="92" fill="#00ff00"/>
<rect x="460" y="681" width="3" height="97" fill="#00ff00"/>
<rect x="468" y="681" width="3" height="97" fill="#00ff00"/>
<rect x="476" y="686" width="3" height="92" fill="#00ff00"/>
<rect x="484" y="689" width="3" height="89" fill="#00ff00"/>
<rect x="492" y="693" width="3" height="85" fill="#00ff00"/>
<rect x="500" y="696" width="3" height="82" fill="#00ff00"/>
<rect x="508" y="702" width="3" height="76" fill="#00ff00"/>
<rect x="516" y="715" width="3" height="63" fill="#00ff00"/>
<rect x="524" y="725" width="3" height="53" fill="#00ff00"/>
<rect x="532" y="732" width="3" height="46" fill="#00ff00"/>
<rect x="540" y="737" width="3" height="41" fill="#00ff00"/>
<rect x="548" y="742" width="3" height="36" fill="#00ff00"/>
<rect x="556" y="743" width="3" height="35" fill="#00ff00"/>
<rect x="564" y="750" width="3" height="28" fill="#00ff00"/>
<rect x="572" y="757" width="3" height="21" fill="#00ff00"/>
<rect x="580" y="762" width="3" height="16" fill="#00ff00"/>
<rect x="588" y="762" width="3" height="16" fill="#00ff00"/>
<rect x="596" y="763" width="3" height="15" fill="#00ff00"/>
<rect x="604" y="759" width="3" height="19" fill="#00ff00"/>
<rect x="612" y="757" width="3" height="21" fill="#00ff00"/>
<rect x="620" y="755" width="3" height="23" fill="#00ff00"/>
<rect x="628" y="755" width="3" height="23" fill="#00ff00"/>
<rect x="636" y="754" width="3" height="24" fill="#00ff00"/>
<rect x="644" y="752" width="3" height="26" fill="#00ff00"/>
<rect x="652" y="749" width="3" height="29" fill="#00ff00"/>
<rect x="660" y="747" width="3" height="31" fill="#00ff00"/>
<rect x="668" y="745" width="3" height="33" fill="#00ff00"/>
<rect x="676" y="745" width="3" height="33" fill="#00ff00"/>
<rect x="684" y="743" width="3" height="35" fill="#00ff00"/>
<rect x="692" y="746" width="3" height="32" fill="#00ff00"/>
<rect x="700" y="749" width="3" height="29" fill="#00ff00"/>
<rect x="708" y="748" width="3" height="30" fill="#00ff00"/>
<rect x="716" y="748" width="3" height="30" fill="#00ff00"/>
<rect x="724" y="744" width="3" height="34" fill="#00ff00"/>
<rect x="732" y="739" width="3" height="39" fill="#00ff00"/>
<rect x="740" y="732" width="3" height="46" fill="#00ff00"/>
<rect x="748" y="732" width="3" height="46" fill="#00ff00"/>
<rect x="756" y="749" width="3" height="29" fill="#00ff00"/>
<rect x="764" y="762" width="3" height="16" fill="#00ff00"/>
<rect x="772" y="772" width="3" height="6" fill="#00ff00"/>
<rect x="780" y="775" width="3" height="3" fill="#00ff00"/>
<rect x="788" y="775" width="3" height="3" fill="#00ff00"/>
<rect x="796" y="765" width="3" height="13" fill="#00ff00"/>
<rect x="804" y="761" width="3" height="17" fill="#00ff00"/>
<rect x="812" y="756" width="3" height="22" fill="#00ff00"/>
<rect x="820" y="758" width="3" height="20" fill="#00ff00"/>
<rect x="828" y="757" width="3" height="21" fill="#00ff00"/>
<rect x="836" y="753" width="3" height="25" fill="#00ff00"/>
<rect x="844" y="753" width="3" height="25" fill="#00ff00"/>
<rect x="852" y="750" width="3" height="28" fill="#00ff00"/>
<rect x="860" y="747" width="3" height="31" fill="#00ff00"/>
<rect x="868" y="746" width="3" height="32" fill="#00ff00"/>
<rect x="876" y="748" width="3" height="30" fill="#00ff00"/>
<rect x="884" y="752" width="3" height="26" fill="#00ff00"/>
<rect x="892" y="757" width="3" height="21" fill="#00ff00"/>
<rect x="900" y="761" width="3" height="17" fill="#00ff00"/>
<rect x="908" y="768" width="3" height="10" fill="#00ff00"/>
<rect x="916" y="777" width="3" height="1" fill="#00ff00"/>
<rect x="924" y="778" width="3" height="13" fill="#00ff00"/>
<rect x="932" y="778" width="3" height="17" fill="#00ff00"/>
<rect x="940" y="778" width="3" height="34" fill="#00ff00"/>
<rect x="948" y="778" width="3" height="48" fill="#00ff00"/>
<rect x="956" y="778" width="3" height="56" fill="#00ff00"/>
<rect x="964" y="778" width="3" height="62" fill="#00ff00"/>
<rect x="972" y="778" width="3" height="77" fill="#00ff00"/>
<rect x="980" y="778" width="3" height="83" fill="#00ff00"/>
<rect x="988" y="778" width="3" height="86" fill="#00ff00"/>
<rect x="996" y="778" width="3" height="90" fill="#00ff00"/>
<rect x="1004" y="778" width="3" height="88" fill="#00ff00"/>
<rect x="1012" y="778" width="3" height="84" fill="#00ff00"/>
<rect x="1020" y="778" width="3" height="77" fill="#00ff00"/>
<rect x="1028" y="778" width="3" height="78" fill="#00ff00"/>
<rect x="1036" y="778" width="3" height="68" fill="#00ff00"/>
<rect x="1044" y="778" width="3" height="78" fill="#00ff00"/>
<rect x="1052" y="778" width="3" height="82" fill="#00ff00"/>
<rect x="1060" y="778" width="3" height="80" fill="#00ff00"/>
<rect x="1068" y="778" width="3" height="77" fill="#00ff00"/>
<rect x="1076" y="778" width="3" height="76" fill="#00ff00"/>
<rect x="1084" y="778" width="3" height="71" fill="#00ff00"/>
<rect x="1092" y="778" width="3" height="61" fill="#00ff00"/>
<rect x="1100" y="778" width="3" height="52" fill="#00ff00"/>
<rect x="1108" y="778" width="3" height="49" fill="#00ff00"/>
<rect x="1116" y="778" width="3" height="45" fill="#00ff00"/>
<rect x="1124" y="778" width="3" height="50" fill="#00ff00"/>
<rect x="1132" y="778" width="3" height="59" fill="#00ff00"/>
<rect x="1140" y="778" width="3" height="56" fill="#00ff00"/>
<rect x="1148" y="778" width="3" height="53" fill="#00ff00"/>
<rect x="1156" y="778" width="3" height="48" fill="#00ff00"/>
<rect x="1164" y="778" width="3" height="41" fill="#00ff00"/>
<rect x="1172" y="778" width="3" height="34" fill="#00ff00"/>
<rect x="1180" y="778" width="3" height="47" fill="#00ff00"/>
<rect x="1188" y="778" width="3" height="53" fill="#00ff00"/>
<rect x="1196" y="778" width="3" height="54" fill="#00ff00"/>
<rect x="1204" y="778" width="3" height="53" fill="#00ff00"/>
<rect x="1212" y="778" width="3" height="47" fill="#00ff00"/>
<rect x="1220" y="778" width="3" height="45" fill="#00ff00"/>
<rect x="1228" y="778" width="3" height="44" fill="#00ff00"/>
<rect x="1236" y="778" width="3" height="47" fill="#00ff00"/>
<rect x="1244" y="778" width="3" height="48" fill="#00ff00"/>
<rect x="1252" y="778" width="3" height="52" fill="#00ff00"/>
<rect x="1260" y="778" width="3" height="52" fill="#00ff00"/>
<rect x="1268" y="778" width="3" height="54" fill="#00ff00"/>
<rect x="1276" y="778" width="3" height="56" fill="#00ff00"/>
<rect x="1284" y="778" width="3" height="55" fill="#00ff00"/>
<polyline points="5.5,720.8 13.5,728 21.5,733.8 29.5,741 37.5,748.1 45.5,755.8 53.5,763.4 61.5,770.7 69.5,778.7 77.5,785.4 85.5,791.7 93.5,797.4 101.5,802.6 109.5,807 117.5,810.8 125.5,813.7 133.5,815 141.5,815.8 149.5,816 157.5,815.6 165.5,814.4 173.5,811.6 181.5,807 189.5,801.3 197.5,794.6 205.5,788.3 213.5,782.5 221.5,774.9 229.5,766.3 237.5,757.1 245.5,748.1 253.5,738.9 261.5,730 269.5,721.4 277.5,712.7 285.5,704.7 293.5,699.4 301.5,694.6 309.5,689.8 317.5,685.4 325.5,682.5 333.5,681.8 341.5,681.4 349.5,682.4 357.5,685.4 365.5,687.7 373.5,690.8 381.5,693.6 389.5,696.5 397.5,700.3 405.5,702.8 413.5,703.2 421.5,703 429.5,701.3 437.5,700.3 445.5,698.4 453.5,696.1 461.5,693.2 469.5,691.3 477.5,688.3 485.5,687.3 493.5,686.9 501.5,687.3 509.5,689.2 517.5,692.3 525.5,696.1 533.5,702.2 541.5,708.5 549.5,715.6 557.5,721.9 565.5,728 573.5,734.7 581.5,740.5 589.5,746.2 597.5,750 605.5,753.1 613.5,755.2 621.5,757.7 629.5,757.9 637.5,757.9 645.5,757.9 653.5,756.3 661.5,755.2 669.5,753.1 677.5,751.4 685.5,749.5 693.5,748.3 701.5,748.1 709.5,747.5 717.5,746.6 725.5,746.2 733.5,745.8 741.5,744.7 749.5,742.8 757.5,743.3 765.5,745.6 773.5,747.5 781.5,750.6 789.5,753.5 797.5,756.5 805.5,758.6 813.5,761.5 821.5,764.7 829.5,764.9 837.5,764.4 845.5,761.5 853.5,759 861.5,756.3 869.5,753.3 877.5,752.3 885.5,751.6 893.5,751.4 901.5,752.5 909.5,753.3 917.5,756.7 925.5,761.5 933.5,767.2 941.5,774.9 949.5,783.5 957.5,793 965.5,799.9 973.5,810.1 981.5,820 989.5,829.6 997.5,839.1 1005.5,846.8 1013.5,852.5 1021.5,855.4 1029.5,857.7 1037.5,858 1045.5,858 1053.5,858 1061.5,857.9 1069.5,856.3 1077.5,855 1085.5,854.4 1093.5,852.5 1101.5,849.6 1109.5,847.7 1117.5,843.9 1125.5,840.5 1133.5,837.2 1141.5,835.3 1149.5,832.4 1157.5,830.5 1165.5,827.3 1173.5,825.4 1181.5,825.7 1189.5,826.1 1197.5,826.1 1205.5,826.1 1213.5,825.4 1221.5,824.4 1229.5,823.8 1237.5,824.4 1245.5,825.9 1253.5,826.1 1261.5,826.1 1269.5,826.7 1277.5,827.7 1285.5,827.8" fill="none" stroke="#ff0000" stroke-width="2" stroke-linejoin="round"/>
<rect x="5" y="106" width="1617" height="3" fill="#000"/>
<rect x="5" y="236" width="1617" height="3" fill="#000"/>
<rect x="5" y="319" width="1617" height="3" fill="#000"/>
<rect x="4" y="469" width="1618" height="3" fill="#0000cd"/>
<g shape-rendering="geometricPrecision"><line x1="1298.6" y1="470.6" x2="1335" y2="373" stroke="#ff0000" stroke-width="5.2" stroke-linecap="round"/><polygon points="1346.6,341.2 1323.2,370.2 1345.8,378.4" fill="#ff0000"/></g>
<rect x="4" y="4" width="1619" height="1" fill="#000"/>
<rect x="4" y="4" width="1" height="658" fill="#000"/>
<rect x="4" y="661" width="1619" height="1" fill="#000"/>
<rect x="4" y="663" width="1619" height="1" fill="#000"/>
<rect x="4" y="663" width="1" height="215" fill="#000"/>
<rect x="4" y="877" width="1619" height="1" fill="#000"/>
<rect x="1622" y="4" width="1" height="874" fill="#000"/>
<rect x="1622" y="469" width="2" height="3" fill="#0000cd"/>
<rect x="1293" y="5" width="9" height="1" fill="#708090"/>
<rect x="1294" y="6" width="7" height="1" fill="#708090"/>
<rect x="1295" y="7" width="5" height="1" fill="#708090"/>
<rect x="1296" y="8" width="3" height="1" fill="#708090"/>
<rect x="1297" y="9" width="1" height="1" fill="#708090"/>
<rect x="8" y="11" width="7" height="1" fill="#000"/>
<rect x="9" y="12" width="5" height="1" fill="#000"/>
<rect x="10" y="13" width="3" height="1" fill="#000"/>
<rect x="11" y="14" width="1" height="1" fill="#000"/>
<rect x="1623" y="31" width="2" height="1" fill="#000"/>
<text x="1628" y="35" fill="#000" stroke="#000" stroke-width="0.28" textLength="38" lengthAdjust="spacingAndGlyphs">4635.820</text>
<rect x="1623" y="64" width="2" height="1" fill="#000"/>
<text x="1628" y="68" fill="#000" stroke="#000" stroke-width="0.28" textLength="38" lengthAdjust="spacingAndGlyphs">4623.775</text>
<rect x="1623" y="97" width="2" height="1" fill="#000"/>
<text x="1628" y="101" fill="#000" stroke="#000" stroke-width="0.28" textLength="38" lengthAdjust="spacingAndGlyphs">4611.730</text>
<rect x="1623" y="130" width="2" height="1" fill="#000"/>
<text x="1628" y="134" fill="#000" stroke="#000" stroke-width="0.28" textLength="38" lengthAdjust="spacingAndGlyphs">4599.685</text>
<rect x="1623" y="163" width="2" height="1" fill="#000"/>
<text x="1628" y="167" fill="#000" stroke="#000" stroke-width="0.28" textLength="38" lengthAdjust="spacingAndGlyphs">4587.275</text>
<rect x="1623" y="196" width="2" height="1" fill="#000"/>
<text x="1628" y="200" fill="#000" stroke="#000" stroke-width="0.28" textLength="38" lengthAdjust="spacingAndGlyphs">4575.230</text>
<rect x="1623" y="229" width="2" height="1" fill="#000"/>
<text x="1628" y="233" fill="#000" stroke="#000" stroke-width="0.28" textLength="38" lengthAdjust="spacingAndGlyphs">4563.185</text>
<rect x="1623" y="262" width="2" height="1" fill="#000"/>
<text x="1628" y="266" fill="#000" stroke="#000" stroke-width="0.28" textLength="38" lengthAdjust="spacingAndGlyphs">4551.140</text>
<rect x="1623" y="295" width="2" height="1" fill="#000"/>
<text x="1628" y="299" fill="#000" stroke="#000" stroke-width="0.28" textLength="38" lengthAdjust="spacingAndGlyphs">4539.095</text>
<rect x="1623" y="328" width="2" height="1" fill="#000"/>
<text x="1628" y="332" fill="#000" stroke="#000" stroke-width="0.28" textLength="38" lengthAdjust="spacingAndGlyphs">4527.050</text>
<rect x="1623" y="361" width="2" height="1" fill="#000"/>
<text x="1628" y="365" fill="#000" stroke="#000" stroke-width="0.28" textLength="38" lengthAdjust="spacingAndGlyphs">4515.005</text>
<rect x="1623" y="394" width="2" height="1" fill="#000"/>
<text x="1628" y="398" fill="#000" stroke="#000" stroke-width="0.28" textLength="38" lengthAdjust="spacingAndGlyphs">4502.960</text>
<rect x="1623" y="427" width="2" height="1" fill="#000"/>
<text x="1628" y="431" fill="#000" stroke="#000" stroke-width="0.28" textLength="38" lengthAdjust="spacingAndGlyphs">4490.550</text>
<rect x="1623" y="460" width="2" height="1" fill="#000"/>
<text x="1628" y="464" fill="#000" stroke="#000" stroke-width="0.28" textLength="38" lengthAdjust="spacingAndGlyphs">4478.505</text>
<rect x="1623" y="493" width="2" height="1" fill="#000"/>
<text x="1628" y="497" fill="#000" stroke="#000" stroke-width="0.28" textLength="38" lengthAdjust="spacingAndGlyphs">4466.460</text>
<rect x="1623" y="526" width="2" height="1" fill="#000"/>
<text x="1628" y="530" fill="#000" stroke="#000" stroke-width="0.28" textLength="38" lengthAdjust="spacingAndGlyphs">4454.415</text>
<rect x="1623" y="559" width="2" height="1" fill="#000"/>
<text x="1628" y="563" fill="#000" stroke="#000" stroke-width="0.28" textLength="38" lengthAdjust="spacingAndGlyphs">4442.370</text>
<rect x="1623" y="592" width="2" height="1" fill="#000"/>
<text x="1628" y="596" fill="#000" stroke="#000" stroke-width="0.28" textLength="38" lengthAdjust="spacingAndGlyphs">4430.325</text>
<rect x="1623" y="625" width="2" height="1" fill="#000"/>
<text x="1628" y="629" fill="#000" stroke="#000" stroke-width="0.28" textLength="38" lengthAdjust="spacingAndGlyphs">4418.280</text>
<rect x="1623" y="658" width="2" height="1" fill="#000"/>
<text x="1628" y="662" fill="#000" stroke="#000" stroke-width="0.28" textLength="38" lengthAdjust="spacingAndGlyphs">4406.235</text>
<rect x="1623" y="665" width="1" height="1" fill="#000"/>
<text x="1626" y="674" fill="#000" stroke="#000" stroke-width="0.28" textLength="33" lengthAdjust="spacingAndGlyphs">25.8035</text>
<rect x="1623" y="778" width="1" height="1" fill="#000"/>
<text x="1626" y="782" fill="#000" stroke="#000" stroke-width="0.28" textLength="18" lengthAdjust="spacingAndGlyphs">0.00</text>
<rect x="1623" y="876" width="1" height="1" fill="#000"/>
<text x="1626" y="874" fill="#000" stroke="#000" stroke-width="0.28" textLength="36" lengthAdjust="spacingAndGlyphs">-22.1864</text>
<rect x="1624" y="101" width="46" height="11" fill="#000"/>
<text x="1628" y="110" fill="#fff" stroke="#fff" stroke-width="0.3" textLength="38" lengthAdjust="spacingAndGlyphs">4608.000</text>
<rect x="1624" y="231" width="46" height="11" fill="#000"/>
<text x="1628" y="240" fill="#fff" stroke="#fff" stroke-width="0.3" textLength="38" lengthAdjust="spacingAndGlyphs">4560.212</text>
<rect x="1624" y="314" width="46" height="11" fill="#000"/>
<text x="1628" y="323" fill="#fff" stroke="#fff" stroke-width="0.3" textLength="38" lengthAdjust="spacingAndGlyphs">4530.000</text>
<rect x="1624" y="446" width="46" height="11" fill="#000"/>
<text x="1628" y="455" fill="#fff" stroke="#fff" stroke-width="0.3" textLength="38" lengthAdjust="spacingAndGlyphs">4481.970</text>
<rect x="1624" y="464" width="46" height="11" fill="#0000cd"/>
<text x="1628" y="473" fill="#fff" stroke="#fff" stroke-width="0.3" textLength="38" lengthAdjust="spacingAndGlyphs">4475.000</text>
<rect x="5" y="878" width="1" height="3" fill="#000"/>
<text x="4.3" y="890" fill="#000" stroke="#000" stroke-width="0.28" textLength="42" lengthAdjust="spacingAndGlyphs">6 Jul 2023</text>
<rect x="69" y="878" width="1" height="3" fill="#000"/>
<text x="68.3" y="890" fill="#000" stroke="#000" stroke-width="0.28" textLength="45" lengthAdjust="spacingAndGlyphs">7 Jul 08:00</text>
<rect x="133" y="878" width="1" height="3" fill="#000"/>
<text x="132.3" y="890" fill="#000" stroke="#000" stroke-width="0.28" textLength="50" lengthAdjust="spacingAndGlyphs">10 Jul 16:00</text>
<rect x="197" y="878" width="1" height="3" fill="#000"/>
<text x="196.3" y="890" fill="#000" stroke="#000" stroke-width="0.28" textLength="50" lengthAdjust="spacingAndGlyphs">12 Jul 00:00</text>
<rect x="261" y="878" width="1" height="3" fill="#000"/>
<text x="260.3" y="890" fill="#000" stroke="#000" stroke-width="0.28" textLength="50" lengthAdjust="spacingAndGlyphs">13 Jul 08:00</text>
<rect x="325" y="878" width="1" height="3" fill="#000"/>
<text x="324.3" y="890" fill="#000" stroke="#000" stroke-width="0.28" textLength="50" lengthAdjust="spacingAndGlyphs">14 Jul 16:00</text>
<rect x="389" y="878" width="1" height="3" fill="#000"/>
<text x="388.3" y="890" fill="#000" stroke="#000" stroke-width="0.28" textLength="50" lengthAdjust="spacingAndGlyphs">18 Jul 00:00</text>
<rect x="453" y="878" width="1" height="3" fill="#000"/>
<text x="452.3" y="890" fill="#000" stroke="#000" stroke-width="0.28" textLength="50" lengthAdjust="spacingAndGlyphs">19 Jul 08:00</text>
<rect x="517" y="878" width="1" height="3" fill="#000"/>
<text x="516.3" y="890" fill="#000" stroke="#000" stroke-width="0.28" textLength="50" lengthAdjust="spacingAndGlyphs">20 Jul 16:00</text>
<rect x="581" y="878" width="1" height="3" fill="#000"/>
<text x="580.3" y="890" fill="#000" stroke="#000" stroke-width="0.28" textLength="50" lengthAdjust="spacingAndGlyphs">24 Jul 00:00</text>
<rect x="645" y="878" width="1" height="3" fill="#000"/>
<text x="644.3" y="890" fill="#000" stroke="#000" stroke-width="0.28" textLength="50" lengthAdjust="spacingAndGlyphs">25 Jul 08:00</text>
<rect x="709" y="878" width="1" height="3" fill="#000"/>
<text x="708.3" y="890" fill="#000" stroke="#000" stroke-width="0.28" textLength="50" lengthAdjust="spacingAndGlyphs">26 Jul 16:00</text>
<rect x="773" y="878" width="1" height="3" fill="#000"/>
<text x="772.3" y="890" fill="#000" stroke="#000" stroke-width="0.28" textLength="50" lengthAdjust="spacingAndGlyphs">28 Jul 00:00</text>
<rect x="837" y="878" width="1" height="3" fill="#000"/>
<text x="836.3" y="890" fill="#000" stroke="#000" stroke-width="0.28" textLength="50" lengthAdjust="spacingAndGlyphs">31 Jul 08:00</text>
<rect x="901" y="878" width="1" height="3" fill="#000"/>
<text x="900.3" y="890" fill="#000" stroke="#000" stroke-width="0.28" textLength="51" lengthAdjust="spacingAndGlyphs">1 Aug 16:00</text>
<rect x="965" y="878" width="1" height="3" fill="#000"/>
<text x="964.3" y="890" fill="#000" stroke="#000" stroke-width="0.28" textLength="51" lengthAdjust="spacingAndGlyphs">3 Aug 00:00</text>
<rect x="1029" y="878" width="1" height="3" fill="#000"/>
<text x="1028.3" y="890" fill="#000" stroke="#000" stroke-width="0.28" textLength="51" lengthAdjust="spacingAndGlyphs">4 Aug 08:00</text>
<rect x="1093" y="878" width="1" height="3" fill="#000"/>
<text x="1092.3" y="890" fill="#000" stroke="#000" stroke-width="0.28" textLength="51" lengthAdjust="spacingAndGlyphs">7 Aug 16:00</text>
<rect x="1157" y="878" width="1" height="3" fill="#000"/>
<text x="1156.3" y="890" fill="#000" stroke="#000" stroke-width="0.28" textLength="51" lengthAdjust="spacingAndGlyphs">9 Aug 00:00</text>
<rect x="1221" y="878" width="1" height="3" fill="#000"/>
<text x="1220.3" y="890" fill="#000" stroke="#000" stroke-width="0.28" textLength="56" lengthAdjust="spacingAndGlyphs">10 Aug 08:00</text>
<rect x="1285" y="878" width="1" height="3" fill="#000"/>
<text x="1284.3" y="890" fill="#000" stroke="#000" stroke-width="0.28" textLength="56" lengthAdjust="spacingAndGlyphs">11 Aug 16:00</text>
<text x="20" y="16" fill="#000" stroke="#000" stroke-width="0.28" textLength="212" lengthAdjust="spacingAndGlyphs">SP500-,H4&#160;&#160;4478.470 4487.970 4469.970 4481.970</text>
<text x="9.3" y="676" fill="#000" stroke="#000" stroke-width="0.28" textLength="143.5" lengthAdjust="spacingAndGlyphs">MACD(12,26,9) -12.2044 -11.1127</text>
</svg>
</body></html>
